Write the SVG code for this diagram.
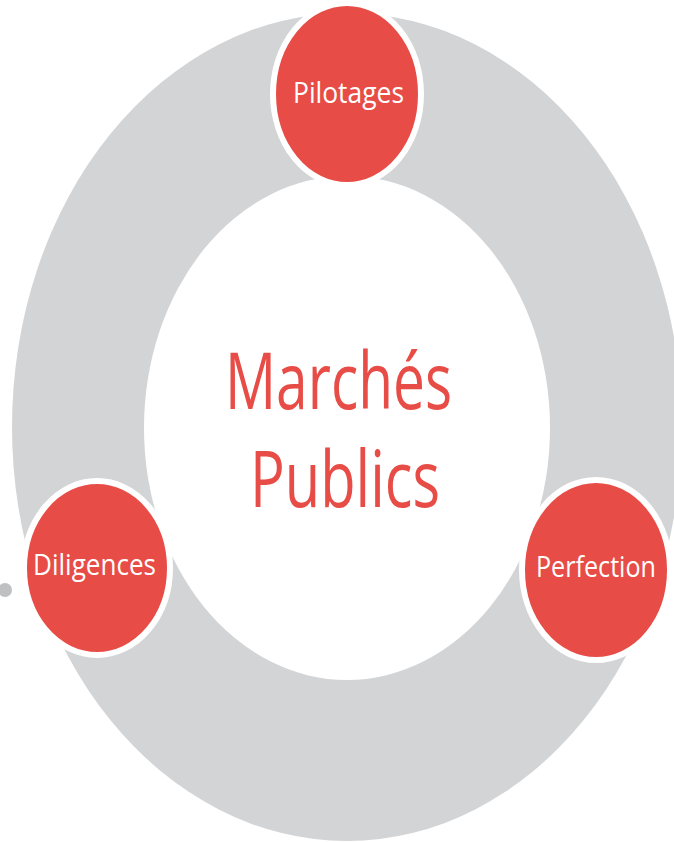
<svg xmlns="http://www.w3.org/2000/svg" width="674" height="842" viewBox="0 0 674 842">
<style>
.node{fill:#E84C46;stroke:#FFFFFF;stroke-width:6}
.lbl{font-family:"Open Sans","Noto Sans",sans-serif;fill:#FFFFFF;font-size:30px}
.title{font-family:"Open Sans","Noto Sans",sans-serif;fill:#E84C46;font-size:78px}
</style>
<rect width="674" height="842" fill="#FFFFFF"/>
<g id="ring">
<ellipse cx="347" cy="427" rx="335" ry="414" fill="#D3D4D6"/>
<ellipse cx="347" cy="428" rx="203" ry="252" fill="#FFFFFF"/>
<circle cx="5" cy="590" r="7" fill="#BFC0C2"/>
</g>
<g id="connectors"/>
<g id="center">
<text class="title" x="225" y="409" textLength="227" lengthAdjust="spacingAndGlyphs">Marchés</text>
<text class="title" x="250" y="507" textLength="190" lengthAdjust="spacingAndGlyphs">Publics</text>
</g>
<g id="pilotages">
<ellipse class="node" cx="347" cy="94" rx="74" ry="91"/>
<text class="lbl" x="293" y="103" textLength="111" lengthAdjust="spacingAndGlyphs">Pilotages</text>
</g>
<g id="diligences">
<ellipse class="node" cx="97" cy="568" rx="73" ry="87"/>
<text class="lbl" x="33" y="575" textLength="123" lengthAdjust="spacingAndGlyphs">Diligences</text>
</g>
<g id="perfection">
<ellipse class="node" cx="596" cy="570" rx="74" ry="90"/>
<text class="lbl" x="536" y="577" textLength="120" lengthAdjust="spacingAndGlyphs">Perfection</text>
</g>
</svg>
